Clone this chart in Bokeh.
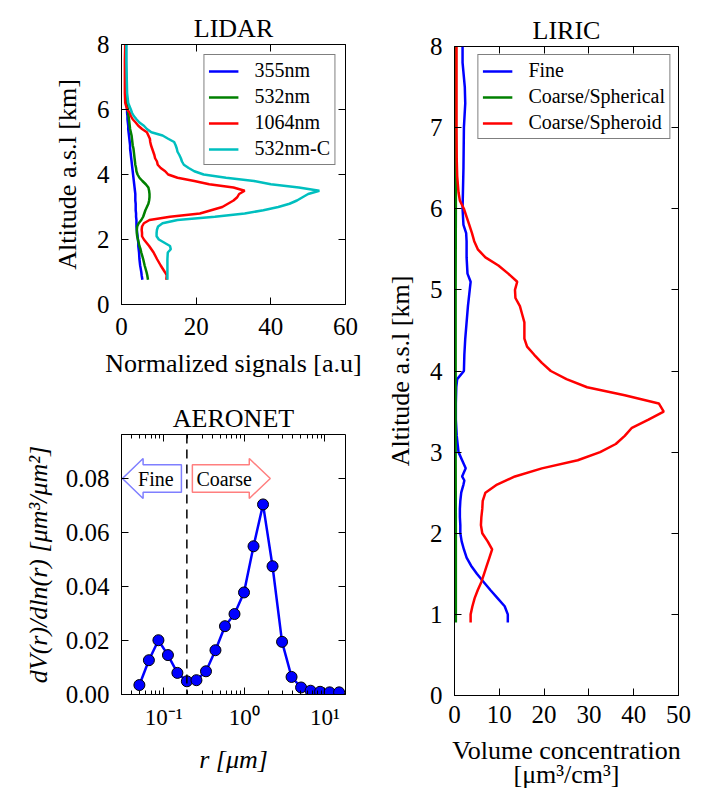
from bokeh.plotting import figure
from bokeh.layouts import row, column
from bokeh.models import (Range1d, LinearAxis, LogAxis, FixedTicker, Legend, LegendItem,
                          Span, Label, PrintfTickFormatter, CustomJSTickFormatter)
from bokeh.embed import file_html
from bokeh.resources import INLINE

# ---------------- data ----------------
lidar_alt = [0.76, 0.9, 1.0, 1.2, 1.4, 1.6, 1.7, 1.8, 1.9,
             2.0, 2.1, 2.2, 2.3, 2.4, 2.5, 2.6, 2.7, 2.8, 2.9,
             3.0, 3.1, 3.2, 3.3, 3.4, 3.5, 3.6, 3.7, 3.8, 3.9,
             4.0, 4.1, 4.2, 4.3, 4.4, 4.5, 4.6, 4.7, 4.8, 4.9,
             5.0, 5.1, 5.2, 5.3, 5.4, 5.5, 5.6, 5.7, 5.8, 5.9,
             6.0, 6.2, 6.5, 7.0, 7.5, 8.0]
lidar_355 = [5.6, 5.4, 5.3, 5.0, 4.8, 4.7, 4.6, 4.5, 4.5,
             4.4, 4.3, 4.2, 4.1, 4.0, 4.0, 4.0, 3.9, 3.9, 3.8,
             3.8, 3.8, 3.7, 3.7, 3.7, 3.6, 3.5, 3.4, 3.3, 3.2,
             3.1, 3.0, 2.9, 2.8, 2.7, 2.6, 2.5, 2.4, 2.3, 2.3,
             2.2, 2.1, 2.0, 1.9, 1.8, 1.8, 1.7, 1.6, 1.6, 1.5,
             1.5, 1.4, 1.3, 1.2, 1.2, 1.2]
lidar_532 = [7.1, 6.9, 6.7, 6.2, 5.8, 5.3, 5.1, 4.8, 4.6,
             4.4, 4.2, 4.1, 4.1, 4.2, 4.6, 5.3, 5.8, 6.1, 6.4,
             6.8, 7.2, 7.4, 7.5, 7.5, 7.4, 7.2, 6.5, 5.6, 4.8,
             4.3, 4.0, 3.9, 3.7, 3.6, 3.5, 3.4, 3.3, 3.2, 3.0,
             2.9, 2.8, 2.7, 2.5, 2.3, 2.2, 2.1, 2.0, 1.9, 1.8,
             1.7, 1.4, 1.3, 1.2, 1.1, 1.1]
lidar_1064 = [12.0, 12.1, 11.6, 10.5, 9.5, 8.6, 8.0, 7.4, 6.7,
              6.0, 5.5, 5.5, 5.4, 5.5, 6.0, 7.5, 13.0, 21.0, 24.0,
              27.0, 28.5, 30.0, 31.0, 31.5, 33.0, 30.0, 23.5, 19.5, 15.0,
              12.5, 11.7, 10.5, 9.7, 9.5, 9.0, 8.8, 8.5, 8.2, 7.9,
              7.7, 7.6, 7.2, 6.8, 5.5, 4.5, 3.8, 3.0, 2.5, 2.2,
              1.5, 1.0, 0.9, 0.9, 0.9, 1.0]
lidar_532c = [12.3, 12.3, 12.3, 12.3, 12.3, 12.4, 13.2, 13.0, 11.5,
              10.0, 9.4, 9.4, 9.5, 9.8, 11.0, 15.0, 25.0, 33.0, 38.0,
              42.0, 45.0, 47.0, 48.5, 50.0, 53.0, 47.5, 40.0, 35.5, 28.0,
              22.0, 19.5, 18.0, 16.7, 16.2, 15.9, 15.5, 15.0, 14.8, 14.5,
              14.1, 12.5, 11.0, 8.0, 6.8, 6.0, 4.8, 4.0, 3.3, 2.8,
              2.5, 1.8, 1.5, 1.4, 1.3, 1.3]
lidar_names = ["355nm", "532nm", "1064nm", "532nm-C"]

aeronet_r = [0.05, 0.0656, 0.0861, 0.113, 0.148, 0.194, 0.255, 0.335, 0.439, 0.576, 0.756,
             0.992, 1.302, 1.708, 2.241, 2.940, 3.857, 5.061, 6.641, 8.713, 11.432, 15.0]
aeronet_dv = [0.0035, 0.0127, 0.0201, 0.0146, 0.0080, 0.0049, 0.0053, 0.0086, 0.0164, 0.0253, 0.0298,
              0.0378, 0.0549, 0.0704, 0.0475, 0.0195, 0.0065, 0.0026, 0.0014, 0.0010, 0.0008, 0.0008]
cutoff_radius = 0.194
aeronet_yticks = [0.0, 0.02, 0.04, 0.06, 0.08]
aeronet_xticks = [0.1, 1.0, 10.0]
aeronet_xlabels = ["10\u207b\u00b9", "10\u2070", "10\u00b9"]

liric_fine_alt = [0.9, 1.0, 1.1, 1.2, 1.3, 1.4, 1.5, 1.6, 1.7, 1.8,
                  1.9, 2.0, 2.1, 2.2, 2.3, 2.4, 2.5, 2.6, 2.65, 2.7,
                  2.8, 2.9, 3.0, 3.1, 3.2, 3.4, 3.6, 3.8, 3.9, 4.0,
                  4.2, 4.4, 4.6, 4.8, 5.0, 5.1, 5.2, 5.4, 5.6, 5.7,
                  5.8, 6.0, 6.5, 7.0, 7.3, 7.5, 7.8, 8.0]
liric_fine = [11.9, 11.9, 11.2, 9.6, 8.0, 6.5, 5.0, 3.7, 2.7, 2.1,
              1.6, 1.3, 1.3, 1.2, 1.2, 1.3, 1.5, 2.0, 2.2, 1.7,
              2.5, 1.7, 0.9, 0.7, 0.5, 0.3, 0.3, 0.4, 0.6, 2.1,
              2.2, 2.4, 2.7, 3.0, 3.4, 3.6, 2.9, 2.7, 2.7, 2.6,
              2.0, 1.8, 2.0, 2.1, 2.4, 2.3, 1.8, 1.8]
liric_sph_alt = [0.9, 2.0, 3.0, 4.0, 5.0, 6.0, 7.0, 8.0]
liric_sph = [0.3, 0.3, 0.25, 0.25, 0.25, 0.3, 0.3, 0.3]
liric_spd_alt = [0.9, 1.0, 1.1, 1.2, 1.3, 1.4, 1.5, 1.6, 1.7, 1.8, 1.9, 2.0,
                 2.1, 2.2, 2.3, 2.4, 2.5, 2.6, 2.7, 2.8, 2.9, 3.0,
                 3.1, 3.2, 3.3, 3.4, 3.5, 3.6, 3.7, 3.8, 3.9, 4.0,
                 4.1, 4.2, 4.3, 4.4, 4.5, 4.6, 4.7, 4.8, 4.9, 5.0,
                 5.1, 5.2, 5.3, 5.4, 5.5, 5.6, 5.7, 5.8, 5.9, 6.0,
                 6.1, 6.2, 6.4, 6.6, 7.0, 7.5, 8.0]
liric_spd = [3.6, 3.6, 4.0, 4.5, 5.2, 6.0, 6.6, 7.2, 7.8, 8.4, 7.4, 6.2,
             5.9, 6.0, 6.2, 6.3, 6.9, 9.5, 13.5, 19.5, 27.5, 32.5,
             36.0, 38.0, 39.6, 43.3, 46.7, 45.6, 38.0, 29.6, 25.0, 21.5,
             19.5, 17.8, 16.2, 15.6, 15.6, 15.6, 15.1, 14.6, 13.6, 13.5,
             14.0, 12.0, 9.8, 6.9, 5.2, 4.4, 3.9, 3.3, 2.7, 2.1,
             1.2, 0.9, 0.6, 0.5, 0.45, 0.45, 0.45]
liric_names = ["Fine", "Coarse/Spherical", "Coarse/Spheroid"]

# annotation arrow geometry (data units of the AERONET panel)
arrow_y = 0.08
arrow_body = 0.0051
arrow_head = 0.0074
fine_arrow_x = (0.0308, 0.0556, 0.166)     # tip, head base, tail
coarse_arrow_x = (0.227, 1.153, 2.10)      # tail, head base, tip

# ---------------- style ----------------
FONT = "Liberation Serif"
BLUE, GREEN, RED, CYAN = "#0000ff", "#008000", "#ff0000", "#00bfbf"


def style_axis(ax, labels=True, tick_size="25px", minor=False):
    ax.major_tick_in = 7
    ax.major_tick_out = 0
    ax.minor_tick_in = 4
    ax.minor_tick_out = 0
    ax.major_tick_line_color = "black"
    ax.major_tick_line_width = 1
    ax.minor_tick_line_color = "black" if minor else None
    ax.axis_line_color = "black"
    ax.axis_line_width = 1
    ax.major_label_text_font = FONT
    if labels:
        ax.major_label_text_font_size = tick_size
        ax.major_label_text_color = "black"
    else:
        ax.major_label_text_font_size = "1px"
        ax.major_label_text_color = None
        ax.major_label_standoff = 0
        ax.axis_line_color = None
    ax.axis_label_text_font = FONT
    ax.axis_label_text_font_size = "26px"
    ax.axis_label_text_font_style = "normal"
    ax.axis_label_text_color = "black"


def base_fig(title, xr, yr, fw, fh, ml, mr, mt, mb, **kw):
    p = figure(frame_width=fw, frame_height=fh, x_range=xr, y_range=yr,
               output_backend="svg", toolbar_location=None, title=title,
               min_border_left=ml, min_border_right=mr, min_border_top=mt,
               min_border_bottom=mb, **kw)
    p.xgrid.visible = False
    p.ygrid.visible = False
    p.outline_line_color = "black"
    p.outline_line_width = 1
    p.background_fill_color = "white"
    p.border_fill_color = "white"
    p.title.text_font = FONT
    p.title.text_font_size = "26px"
    p.title.text_font_style = "normal"
    p.title.text_color = "black"
    p.title.align = "center"
    p.title.standoff = 4
    return p


def make_legend(items, margin, padding):
    lg = Legend(items=items, location="top_right", margin=margin, padding=padding, spacing=3,
                glyph_width=30, glyph_height=22, label_height=22, label_standoff=16,
                label_text_font=FONT, label_text_font_size="20px", label_text_color="black",
                border_line_color="black", border_line_width=1,
                background_fill_color="white", background_fill_alpha=1.0)
    return lg


# ---------------- LIDAR ----------------
p1 = base_fig("LIDAR", Range1d(0, 60), Range1d(0, 8), 224, 260, 121, 25, 44, 81)
p1.xaxis.ticker = FixedTicker(ticks=[0, 20, 40, 60])
p1.yaxis.ticker = FixedTicker(ticks=[0, 2, 4, 6, 8])
p1.xaxis.axis_label = "Normalized signals [a.u]"
p1.yaxis.axis_label = "Altitude a.s.l [km]"
for ax in p1.xaxis + p1.yaxis:
    style_axis(ax)
p1.xaxis.major_label_standoff = 13
p1.xaxis.axis_label_standoff = 11
p1.yaxis.major_label_standoff = 12
p1.yaxis.axis_label_standoff = 12
ax_r = LinearAxis(ticker=FixedTicker(ticks=[0, 2, 4, 6, 8]))
ax_t = LinearAxis(ticker=FixedTicker(ticks=[0, 20, 40, 60]))
for ax in (ax_r, ax_t):
    style_axis(ax, labels=False)
p1.add_layout(ax_r, "right")
p1.add_layout(ax_t, "above")

items = []
for vals, col, name in zip([lidar_355, lidar_532, lidar_1064, lidar_532c],
                           [BLUE, GREEN, RED, CYAN], lidar_names):
    r = p1.line(vals, lidar_alt, line_color=col, line_width=2.5)
    items.append(LegendItem(label=name, renderers=[r]))
p1.add_layout(make_legend(items, 10, 4))

# ---------------- AERONET ----------------
p2 = base_fig("AERONET", Range1d(0.03, 18), Range1d(0, 0.0963), 224, 260, 121, 25, 49, 81,
              x_axis_type="log")
minor = [m * 10.0 ** e for e in (-2, -1, 0, 1) for m in range(2, 10)]
p2.xaxis.ticker = FixedTicker(ticks=aeronet_xticks, minor_ticks=minor)
p2.xaxis.formatter = CustomJSTickFormatter(
    args=dict(majors=aeronet_xticks, labs=aeronet_xlabels),
    code="""
    for (let i = 0; i < majors.length; i++) {
        if (Math.abs(Math.log10(majors[i]) - Math.log10(tick)) < 1e-6) { return labs[i]; }
    }
    return String(tick);
    """)
p2.yaxis.ticker = FixedTicker(ticks=aeronet_yticks)
p2.yaxis.formatter = PrintfTickFormatter(format="%.2f")
p2.xaxis.axis_label = "r [\u03bcm]"
p2.yaxis.axis_label = "dV(r)/dln(r) [\u03bcm\u00b3/\u03bcm\u00b2]"
for ax in p2.xaxis:
    style_axis(ax, tick_size="23px", minor=True)
for ax in p2.yaxis:
    style_axis(ax)
p2.xaxis.axis_label_text_font_style = "italic"
p2.yaxis.axis_label_text_font_style = "italic"
p2.xaxis.major_label_standoff = 10
p2.xaxis.axis_label_standoff = 12
p2.yaxis.major_label_standoff = 12
p2.yaxis.axis_label_standoff = 10
ax_r2 = LinearAxis(ticker=FixedTicker(ticks=aeronet_yticks))
ax_t2 = LogAxis(ticker=FixedTicker(ticks=aeronet_xticks, minor_ticks=minor))
style_axis(ax_r2, labels=False)
style_axis(ax_t2, labels=False, minor=True)
p2.add_layout(ax_r2, "right")
p2.add_layout(ax_t2, "above")

ft, fh_, fe = fine_arrow_x
p2.patch([ft, fh_, fh_, fe, fe, fh_, fh_],
         [arrow_y, arrow_y + arrow_head, arrow_y + arrow_body, arrow_y + arrow_body,
          arrow_y - arrow_body, arrow_y - arrow_body, arrow_y - arrow_head],
         fill_color="white", line_color="#7f7fff", line_width=1.5)
cs, ch, ct = coarse_arrow_x
p2.patch([cs, ch, ch, ct, ch, ch, cs],
         [arrow_y + arrow_body, arrow_y + arrow_body, arrow_y + arrow_head, arrow_y,
          arrow_y - arrow_head, arrow_y - arrow_body, arrow_y - arrow_body],
         fill_color="white", line_color="#ff7f7f", line_width=1.5)
p2.add_layout(Label(x=(ft * fe) ** 0.5 * 1.12, y=arrow_y, text="Fine", text_align="center",
                    text_baseline="middle", text_font=FONT, text_font_size="20px",
                    text_color="black"))
p2.add_layout(Label(x=(cs * ch) ** 0.5 * 1.1, y=arrow_y, text="Coarse", text_align="center",
                    text_baseline="middle", text_font=FONT, text_font_size="20px",
                    text_color="black"))
p2.add_layout(Span(location=cutoff_radius, dimension="height", line_color="black",
                   line_dash="9 6", line_width=1.5))
p2.line(aeronet_r, aeronet_dv, line_color=BLUE, line_width=2.5)
p2.scatter(aeronet_r, aeronet_dv, size=11, fill_color=BLUE, line_color="black", line_width=1)

# ---------------- LIRIC ----------------
p3 = base_fig("LIRIC", Range1d(0, 50), Range1d(0, 8), 224, 649, 84, 20, 46, 95)
p3.xaxis.ticker = FixedTicker(ticks=[0, 10, 20, 30, 40, 50])
p3.yaxis.ticker = FixedTicker(ticks=[0, 1, 2, 3, 4, 5, 6, 7, 8])
p3.xaxis.axis_label = "Volume concentration\n[\u03bcm\u00b3/cm\u00b3]"
p3.yaxis.axis_label = "Altitude a.s.l [km]"
for ax in p3.xaxis + p3.yaxis:
    style_axis(ax)
p3.xaxis.axis_label_text_line_height = 0.85
p3.xaxis.major_label_standoff = 10
p3.xaxis.axis_label_standoff = 10
p3.yaxis.major_label_standoff = 12
p3.yaxis.axis_label_standoff = 12
ax_r3 = LinearAxis(ticker=FixedTicker(ticks=[0, 1, 2, 3, 4, 5, 6, 7, 8]))
ax_t3 = LinearAxis(ticker=FixedTicker(ticks=[0, 10, 20, 30, 40, 50]))
for ax in (ax_r3, ax_t3):
    style_axis(ax, labels=False)
p3.add_layout(ax_r3, "right")
p3.add_layout(ax_t3, "above")

items3 = []
for xs, ys, col, name in zip([liric_fine, liric_sph, liric_spd],
                             [liric_fine_alt, liric_sph_alt, liric_spd_alt],
                             [BLUE, GREEN, RED], liric_names):
    r = p3.line(xs, ys, line_color=col, line_width=2.5)
    items3.append(LegendItem(label=name, renderers=[r]))
p3.add_layout(make_legend(items3, 8, 4))

layout = row(column(p1, p2), p3)
open("out.html", "w").write(file_html(layout, INLINE))
